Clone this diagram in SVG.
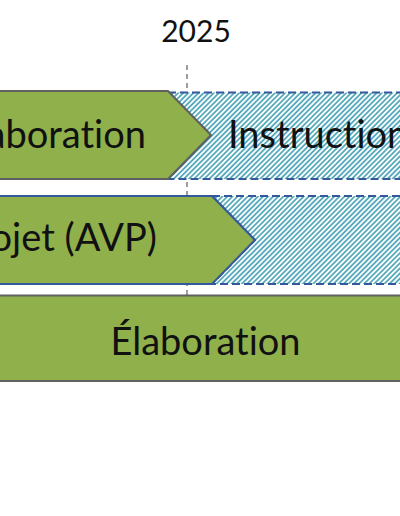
<svg xmlns="http://www.w3.org/2000/svg" width="400" height="516" viewBox="0 0 400 516">
  <style>
    .lbl { font-family: Lato, "Open Sans", "Liberation Sans", sans-serif; fill: #111; font-variant-ligatures: none; font-feature-settings: "liga" 0, "dlig" 0; }
    .big { font-size: 38px; }
    .year { font-size: 30px; }
    .green { fill: #8fb04a; }
    .gray-stroke { stroke: #606060; stroke-width: 2; }
    .blue-stroke { stroke: #34589c; stroke-width: 2; }
    .hatch { fill: url(#hatch); stroke: #34589c; stroke-width: 2; stroke-dasharray: 8 4; }
  </style>
  <defs>
    <pattern id="hatch" patternUnits="userSpaceOnUse" width="3.6" height="3.6" patternTransform="rotate(45)">
      <rect width="3.6" height="3.6" fill="#ffffff"/>
      <line x1="0.9" y1="0" x2="0.9" y2="3.6" stroke="#42a0b4" stroke-width="1.6"/>
    </pattern>
  </defs>
  <rect width="400" height="516" fill="#ffffff"/>

  <g id="year-marker">
    <text class="lbl year" x="196" y="42" text-anchor="middle">2025</text>
    <line x1="187" y1="65" x2="187" y2="295" stroke="#3a3a3a" stroke-width="1" stroke-dasharray="5 4"/>
  </g>

  <g id="row1-instruction">
    <path class="hatch" d="M168 92.5 H410 V179 H168 L211 135 Z"/>
    <text class="lbl big" x="228" y="148">Instruction</text>
  </g>
  <g id="row1-elaboration">
    <path class="green gray-stroke" d="M-10 91 H168 L211 135 L168 179 H-10 Z"/>
    <text class="lbl big" x="146" y="148" text-anchor="end">Élaboration</text>
  </g>

  <g id="row2-hatch">
    <path class="hatch" d="M212 196 H410 V284 H212 L255 240 Z"/>
  </g>
  <g id="row2-avp">
    <path class="green blue-stroke" d="M-10 196 H212 L255 240 L212 284 H-10 Z"/>
    <text class="lbl big" x="157" y="251" text-anchor="end">Avant-projet (AVP)</text>
  </g>

  <g id="row3-elaboration">
    <rect class="green gray-stroke" x="-10" y="295.5" width="420" height="85.5"/>
    <text class="lbl big" x="205.5" y="355" text-anchor="middle">Élaboration</text>
  </g>
</svg>
